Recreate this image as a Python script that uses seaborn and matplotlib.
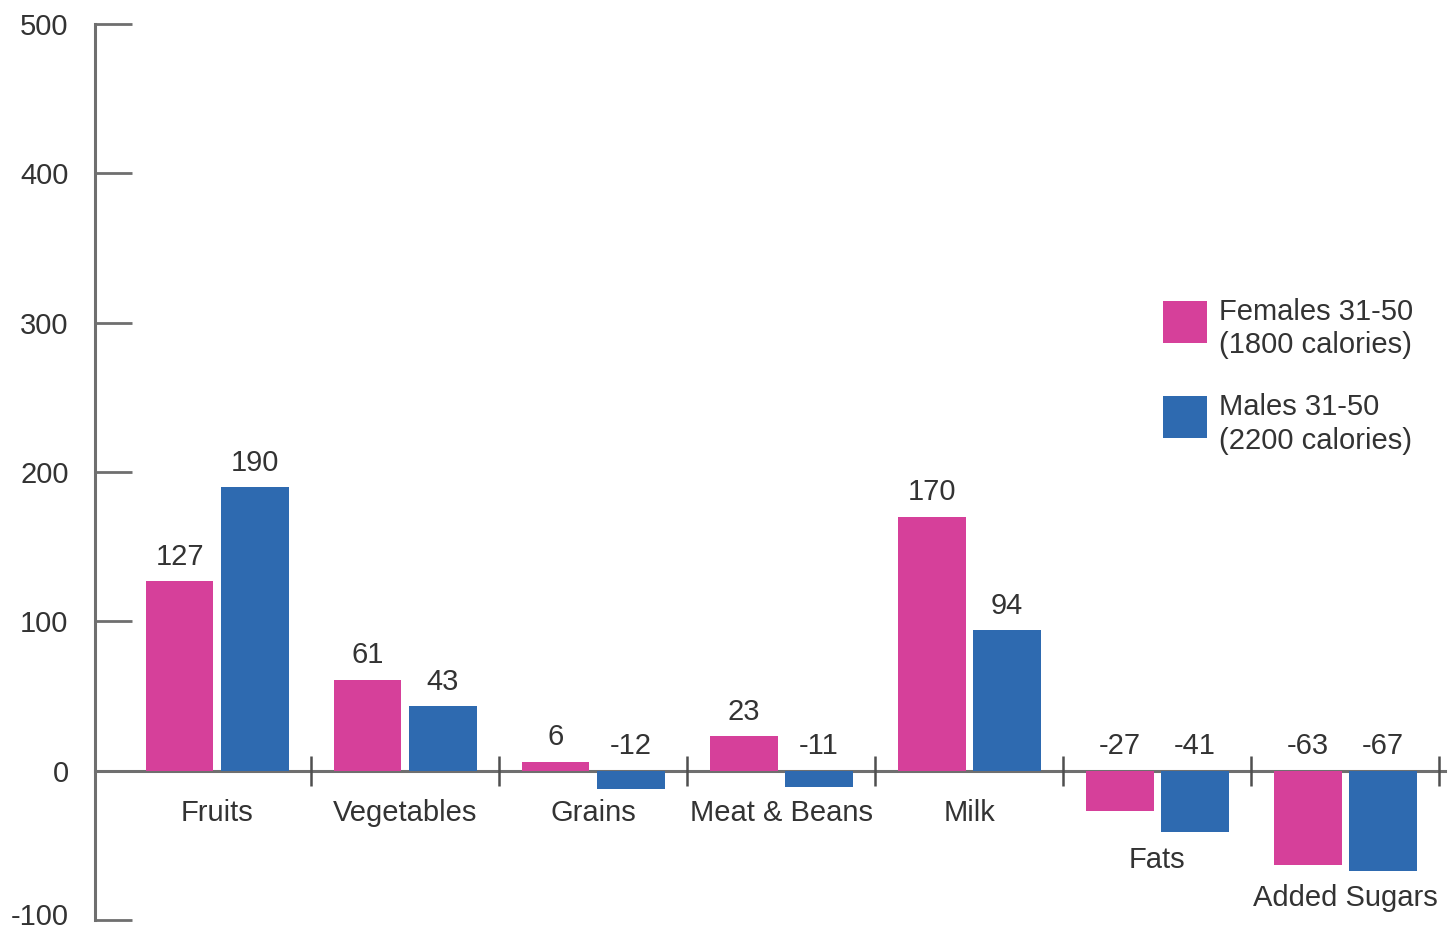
import matplotlib
matplotlib.use("Agg")
import matplotlib.pyplot as plt
import seaborn as sns
import pandas as pd
import numpy as np
from matplotlib.patches import Patch, Rectangle
from matplotlib.legend_handler import HandlerPatch

categories = ["Fruits", "Vegetables", "Grains", "Meat & Beans", "Milk", "Fats", "Added Sugars"]
females = [127, 61, 6, 23, 170, -27, -63]
males = [190, 43, -12, -11, 94, -41, -67]
series_names = ["Females 31-50\n(1800 calories)", "Males 31-50\n(2200 calories)"]
yticks = [-100, 0, 100, 200, 300, 400, 500]

PINK = "#D6409A"
BLUE = "#2E6AB0"
GRAY = "#6f6f6f"
TXT = "#333333"
FS = 21

df = pd.DataFrame({
    "category": categories * 2,
    "value": females + males,
    "group": [series_names[0]] * len(categories) + [series_names[1]] * len(categories),
})

sns.set_style("white")
plt.rcParams["font.family"] = ["Liberation Sans", "DejaVu Sans"]

W, H = 1449, 931
fig = plt.figure(figsize=(W / 100, H / 100), dpi=100)
ax = fig.add_axes([95 / W, 1 - 920 / H, 1350 / W, (920 - 24) / H])

sns.barplot(data=df, x="category", y="value", hue="group", order=categories,
            hue_order=series_names, palette=[PINK, BLUE], width=0.8, gap=0.1,
            saturation=1, ax=ax, legend=False, linewidth=0)

ax.set_xlim(-0.65, 6.53)
ax.set_ylim(-100, 500)
ax.set_yticks(yticks)
# lowest label drawn separately so it stays inside the image
ax.set_yticklabels([""] + [str(t) for t in yticks[1:]], fontsize=FS, color=TXT)
ax.tick_params(axis="y", left=True, direction="in", length=26.6, width=2, color=GRAY, pad=19)
ax.annotate(str(yticks[0]), xy=(0, yticks[0]), xycoords=ax.get_yaxis_transform(),
            xytext=(-19, -8), textcoords="offset points", ha="right", va="bottom",
            fontsize=FS, color=TXT, annotation_clip=False)
ax.set_xlabel("")
ax.set_ylabel("")

for s in ["top", "right"]:
    ax.spines[s].set_visible(False)
ax.spines["left"].set_color(GRAY)
ax.spines["left"].set_linewidth(2.2)
ax.spines["bottom"].set_position(("data", 0))
ax.spines["bottom"].set_color(GRAY)
ax.spines["bottom"].set_linewidth(2.2)
ax.spines["bottom"].set_zorder(0.5)

# category separators as minor ticks on the zero line
ax.set_xticks(np.arange(len(categories)) + 0.5, minor=True)
ax.set_xticks(np.arange(len(categories)))
ax.set_xticklabels([])
ax.tick_params(axis="x", which="major", bottom=False, length=0)
ax.tick_params(axis="x", which="minor", bottom=True, direction="inout", length=21,
               width=1.8, color="#4f4f4f")

# value labels
for container in ax.containers:
    for bar in container:
        val = bar.get_y() + bar.get_height() if bar.get_y() >= 0 else bar.get_y()
        top = max(val, 0)
        ax.annotate(f"{int(round(val))}", (bar.get_x() + bar.get_width() / 2, top),
                    xytext=(0, 17.5), textcoords="offset points", ha="center", va="center",
                    fontsize=FS, color=TXT)

# category labels
for i, cat in enumerate(categories):
    mn = min(females[i], males[i], 0)
    y = mn - 18.5 if mn < -25 else -28.5
    ax.text(i, y, cat, ha="center", va="center", fontsize=FS, color=TXT)


def raised_square(legend, orig_handle, xdescent, ydescent, width, height, fontsize):
    return Rectangle((-xdescent, -ydescent + 6), width, height)


handles = [Patch(facecolor=PINK, edgecolor="none"), Patch(facecolor=BLUE, edgecolor="none")]
leg = fig.legend(handles, series_names, loc="upper left", bbox_to_anchor=(1163 / W, 1 - 298 / H),
                 frameon=False, fontsize=FS, handlelength=1.5, handleheight=1.8,
                 handletextpad=0.43, labelspacing=1.15, borderpad=0, borderaxespad=0,
                 handler_map={Patch: HandlerPatch(patch_func=raised_square)})
for t in leg.get_texts():
    t.set_color(TXT)
    t.set_linespacing(1.25)

fig.savefig("out.png", dpi=100)
